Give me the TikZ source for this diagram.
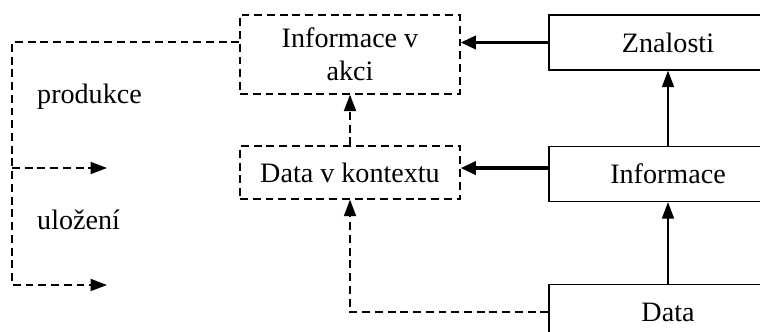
\documentclass[tikz,border=0pt,12pt]{standalone}
\usepackage{fontspec}
\setmainfont{Liberation Serif}
\usetikzlibrary{arrows.meta}

\begin{document}
\begin{tikzpicture}[x=0.016cm,y=-0.016cm,font=\fontsize{12.8}{15.2}\selectfont,
  solidbox/.style={draw,line width=0.6pt,minimum width=3.81cm,minimum height=0.88cm,inner sep=0pt},
  dashbox/.style={draw,line width=0.6pt,dash pattern=on 3.6pt off 2.2pt,minimum width=3.52cm,inner sep=0pt,align=center},
  dashline/.style={line width=0.75pt,dash pattern=on 3.6pt off 2.2pt},
  tip/.style={-{Triangle[length=7.5pt,width=5.5pt]}},
  bigtip/.style={line width=1.6pt,-{Triangle[length=7pt,width=6pt]}}]
\clip (0,0) rectangle (760,331);
\node[dashbox,minimum height=1.264cm] (akce) at (350,54.5) {Informace v\\akci};
\node[dashbox,minimum height=0.848cm] (kontext) at (350,172.5) {Data v kontextu};
\node[solidbox] (znal) at (668,42.5) {Znalosti};
\node[solidbox] (info) at (668,174) {Informace};
\node[solidbox] (data) at (668,312) {Data};
\node[anchor=west] (prod) at (28,97) {produkce};
\node[anchor=west] (uloz) at (28,220) {uložení};
\coordinate (roh) at (12,42);
\coordinate (prodA) at (107,168);
\coordinate (ulozA) at (107,285);
% plne sipky
\draw[bigtip] (znal.west) -- (znal.west -| akce.east);
\draw[bigtip] ([yshift=2.7pt]info.west) -- ([yshift=2.7pt]info.west -| kontext.east);
\draw[line width=0.6pt,tip] (info.north) -- (znal.south);
\draw[line width=0.6pt,tip] (data.north) -- (info.south);
% carkovane
\draw[dashline,tip] (kontext.north) -- (akce.south);
\draw[dashline,tip] (data.west) -| (kontext.south);
\draw[dashline,tip] (akce.west |- roh) -- (roh) |- (ulozA);
\draw[dashline,tip] (roh |- prodA) -- (prodA);
\end{tikzpicture}
\end{document}
